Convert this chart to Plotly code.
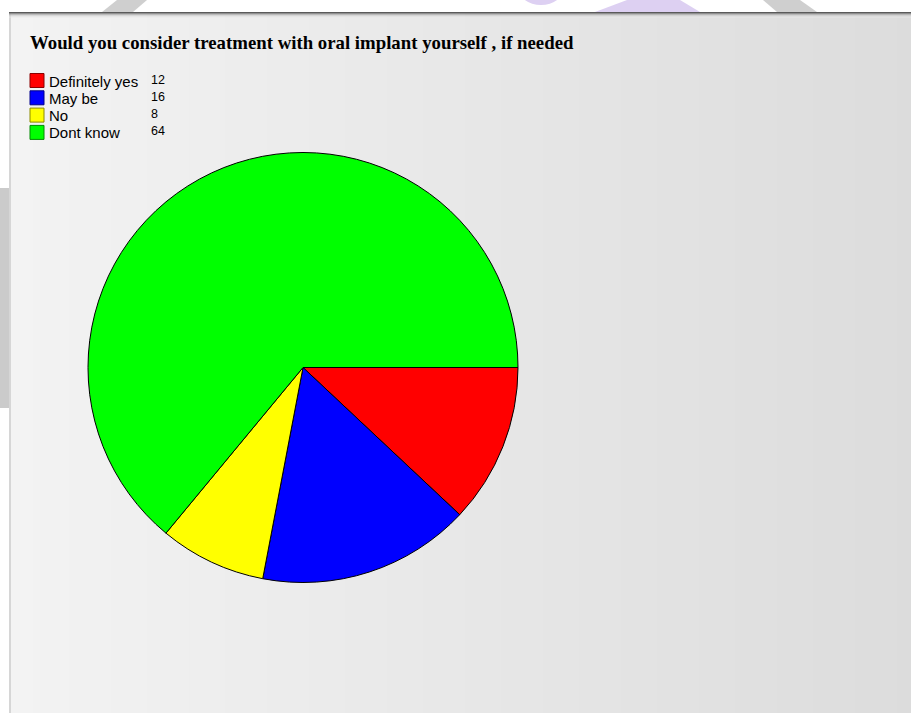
import plotly.graph_objects as go

# ---- data ----
title_text = "Would you consider treatment with oral implant yourself , if needed"
categories = ["Definitely yes", "May be", "No", "Dont know"]
values = [12, 16, 8, 64]
colors = ["#ff0000", "#0000ff", "#ffff00", "#00ff00"]
border_colors = ["#8a0000", "#00008a", "#8a8a00", "#008a00"]

W, H = 911, 713

fig = go.Figure()

fig.add_trace(go.Pie(
    labels=categories,
    values=values,
    sort=False,
    direction="clockwise",
    rotation=90,
    marker=dict(colors=colors, line=dict(color="#000000", width=1)),
    textinfo="none",
    hoverinfo="label+value",
    showlegend=False,
    domain=dict(x=[88 / W, 518 / W], y=[1 - 583 / H, 1 - 152 / H]),
))

shapes = []
# watermark bits in the white top region
shapes.append(dict(type="path", path="M 102 12 L 117 0 L 147 0 L 133 12 Z",
                   fillcolor="#cfcfcf", line=dict(width=0), layer="below"))
shapes.append(dict(type="path", path="M 595 12 L 627 0 L 680 0 L 700 12 Z",
                   fillcolor="#ddd0f2", line=dict(width=0), layer="below"))
shapes.append(dict(type="circle", x0=518, x1=564, y0=-30, y1=5,
                   fillcolor="#ddd0f2", line=dict(width=0), layer="below"))
shapes.append(dict(type="path", path="M 763 0 L 800 0 L 817 12 L 777 12 Z",
                   fillcolor="#cfcfcf", line=dict(width=0), layer="below"))
shapes.append(dict(type="rect", x0=0, x1=9, y0=188, y1=408,
                   fillcolor="#cbcbcb", line=dict(width=0), layer="below"))

# panel gradient (left light -> right darker)
x_start, x_end = 9, W
step = 6
x = x_start
while x < x_end:
    t = (x - x_start) / (x_end - x_start)
    c = round(243 - t * 23)
    shapes.append(dict(type="rect", x0=x, x1=min(x + step + 0.5, x_end), y0=12, y1=H,
                       fillcolor=f"rgb({c},{c},{c})", line=dict(width=0), layer="below"))
    x += step
# left edge line
shapes.append(dict(type="rect", x0=9, x1=11, y0=12, y1=H,
                   fillcolor="#d6d6d6", line=dict(width=0), layer="below"))
# top shadow
shadow = [90, 130, 170, 200, 220, 232]
for i, c in enumerate(shadow):
    shapes.append(dict(type="rect", x0=9, x1=W, y0=12 + i, y1=13 + i,
                       fillcolor=f"rgba({c},{c},{c},{1 - i * 0.12})", line=dict(width=0), layer="below"))

annotations = [dict(
    text="<b>" + title_text + "</b>", x=28, y=42, xref="x", yref="y",
    xanchor="left", yanchor="middle", showarrow=False,
    font=dict(family="Liberation Serif, Times New Roman, serif", size=18.8, color="#000000"),
)]

# legend (boxes, labels, values)
row0, row_step = 80.5, 17.3
for i, (cat, val, col, bcol) in enumerate(zip(categories, values, colors, border_colors)):
    yc = row0 + i * row_step
    shapes.append(dict(type="rect", x0=30, x1=44, y0=yc - 7, y1=yc + 7,
                       fillcolor=col, line=dict(color=bcol, width=1), layer="above"))
    annotations.append(dict(text=cat, x=46.5, y=yc + 0.5, xref="x", yref="y",
                            xanchor="left", yanchor="middle", showarrow=False,
                            font=dict(family="Liberation Sans, Arial, sans-serif", size=15, color="#000")))
    annotations.append(dict(text=str(val), x=148.5, y=yc - 1, xref="x", yref="y",
                            xanchor="left", yanchor="middle", showarrow=False,
                            font=dict(family="Liberation Sans, Arial, sans-serif", size=12.5, color="#000")))

fig.update_layout(
    width=W, height=H,
    margin=dict(l=0, r=0, t=0, b=0),
    paper_bgcolor="#ffffff",
    plot_bgcolor="rgba(0,0,0,0)",
    xaxis=dict(range=[0, W], visible=False, fixedrange=True),
    yaxis=dict(range=[H, 0], visible=False, fixedrange=True),
    shapes=shapes,
    annotations=annotations,
    showlegend=False,
)

fig.write_html("out.html", config={"displayModeBar": False})
